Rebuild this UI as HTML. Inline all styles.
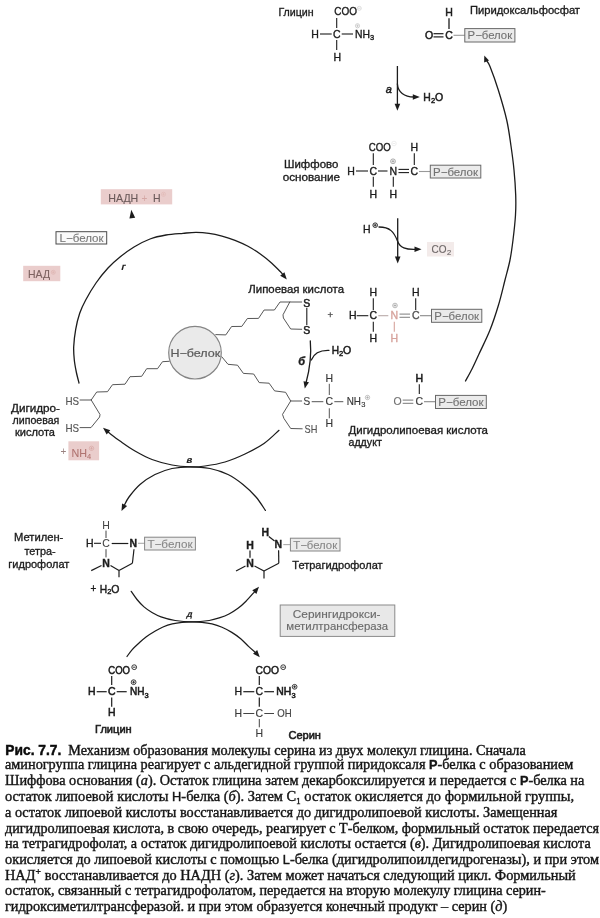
<!DOCTYPE html>
<html lang="ru"><head><meta charset="utf-8"><title>Рис. 7.7</title>
<style>
html,body{margin:0;padding:0;background:#fff;}
body{width:600px;height:918px;overflow:hidden;font-family:"Liberation Sans",sans-serif;}
svg{display:block;font-family:"Liberation Sans",sans-serif;filter:blur(0.45px);}
svg text{white-space:pre;}
</style></head><body>
<svg width="600" height="918" viewBox="0 0 600 918">
<rect x="0" y="0" width="600" height="918" fill="#ffffff"/>
<text x="278.40" y="16.46" font-size="10.5" text-anchor="start" fill="#1c1c1c" textLength="35.20" lengthAdjust="spacingAndGlyphs" stroke="#1c1c1c" stroke-width="0.32">Глицин</text>
<text x="334.30" y="15.46" font-size="10.5" text-anchor="start" fill="#1c1c1c" textLength="22.70" lengthAdjust="spacingAndGlyphs" stroke="#1c1c1c" stroke-width="0.35">COO</text>
<circle cx="359.30" cy="8.30" r="2.0" fill="none" stroke="#cfcfcf" stroke-width="0.7"/>
<line x1="358.10" y1="8.30" x2="360.50" y2="8.30" stroke="#cfcfcf" stroke-width="0.7" stroke-linecap="butt"/>
<line x1="336.70" y1="18.00" x2="336.70" y2="28.00" stroke="#1c1c1c" stroke-width="1.1" stroke-linecap="butt"/>
<text x="315.00" y="37.76" font-size="10.5" text-anchor="middle" fill="#1c1c1c" stroke="#1c1c1c" stroke-width="0.35">H</text>
<line x1="320.00" y1="34.00" x2="331.70" y2="34.00" stroke="#1c1c1c" stroke-width="1.1" stroke-linecap="butt"/>
<text x="336.70" y="37.76" font-size="10.5" text-anchor="middle" fill="#1c1c1c" stroke="#1c1c1c" stroke-width="0.35">C</text>
<line x1="341.70" y1="34.00" x2="353.00" y2="34.00" stroke="#1c1c1c" stroke-width="1.1" stroke-linecap="butt"/>
<text x="355.00" y="37.76" font-size="10.5" text-anchor="start" fill="#1c1c1c" textLength="15.00" lengthAdjust="spacingAndGlyphs" stroke="#1c1c1c" stroke-width="0.35">NH</text>
<text x="372.20" y="40.29" font-size="7.5" text-anchor="middle" fill="#1c1c1c" stroke="#1c1c1c" stroke-width="0.35">3</text>
<circle cx="357.50" cy="25.80" r="2.1" fill="none" stroke="#bdbdbd" stroke-width="0.7"/>
<line x1="356.24" y1="25.80" x2="358.76" y2="25.80" stroke="#bdbdbd" stroke-width="0.7" stroke-linecap="butt"/>
<line x1="357.50" y1="24.54" x2="357.50" y2="27.06" stroke="#bdbdbd" stroke-width="0.7" stroke-linecap="butt"/>
<line x1="336.70" y1="40.00" x2="336.70" y2="50.00" stroke="#1c1c1c" stroke-width="1.1" stroke-linecap="butt"/>
<text x="337.30" y="60.76" font-size="10.5" text-anchor="middle" fill="#1c1c1c" stroke="#1c1c1c" stroke-width="0.35">H</text>
<line x1="397.40" y1="66.00" x2="397.40" y2="105.00" stroke="#1c1c1c" stroke-width="1.3" stroke-linecap="butt"/>
<polygon points="397.40,110.70 394.60,103.70 400.20,103.70" fill="#1c1c1c"/>
<text x="388.70" y="92.94" font-size="11" text-anchor="middle" fill="#1c1c1c" font-style="italic" stroke="#1c1c1c" stroke-width="0.45">a</text>
<path d="M397.4,84 C398,92 404,97 414,97" stroke="#1c1c1c" stroke-width="1.3" fill="none" stroke-linejoin="round" stroke-linecap="round"/>
<polygon points="419.80,97.00 412.80,99.80 412.80,94.20" fill="#1c1c1c"/>
<text x="423.30" y="101.06" font-size="10.5" text-anchor="start" fill="#1c1c1c" textLength="7.50" lengthAdjust="spacingAndGlyphs" stroke="#1c1c1c" stroke-width="0.5">H</text>
<text x="433.00" y="102.98" font-size="7.5" text-anchor="middle" fill="#1c1c1c" stroke="#1c1c1c" stroke-width="0.45">2</text>
<text x="439.00" y="101.06" font-size="10.5" text-anchor="middle" fill="#1c1c1c" stroke="#1c1c1c" stroke-width="0.5">O</text>
<text x="449.00" y="15.76" font-size="10.5" text-anchor="middle" fill="#1c1c1c" stroke="#1c1c1c" stroke-width="0.5">H</text>
<line x1="449.00" y1="18.30" x2="449.00" y2="29.00" stroke="#1c1c1c" stroke-width="1.3" stroke-linecap="butt"/>
<text x="429.00" y="39.06" font-size="10.5" text-anchor="middle" fill="#1c1c1c" stroke="#1c1c1c" stroke-width="0.5">O</text>
<line x1="433.50" y1="33.70" x2="443.50" y2="33.70" stroke="#1c1c1c" stroke-width="1.2" stroke-linecap="butt"/>
<line x1="433.50" y1="36.90" x2="443.50" y2="36.90" stroke="#1c1c1c" stroke-width="1.2" stroke-linecap="butt"/>
<text x="449.00" y="39.06" font-size="10.5" text-anchor="middle" fill="#1c1c1c" stroke="#1c1c1c" stroke-width="0.5">C</text>
<line x1="453.50" y1="35.30" x2="465.00" y2="35.30" stroke="#999" stroke-width="1.1" stroke-linecap="butt"/>
<rect x="464.80" y="28.60" width="50.10" height="13.40" fill="#ebebeb" stroke="#686868" stroke-width="1.0"/>
<text x="467.60" y="39.26" font-size="10.5" text-anchor="start" fill="#727272" textLength="44.50" lengthAdjust="spacingAndGlyphs" stroke="#727272" stroke-width="0.1">P−белок</text>
<text x="470.00" y="13.76" font-size="10.5" text-anchor="start" fill="#1c1c1c" textLength="110.00" lengthAdjust="spacingAndGlyphs" stroke="#1c1c1c" stroke-width="0.32">Пиридоксальфосфат</text>
<text x="284.00" y="167.76" font-size="10.5" text-anchor="start" fill="#1c1c1c" textLength="54.30" lengthAdjust="spacingAndGlyphs" stroke="#1c1c1c" stroke-width="0.32">Шиффово</text>
<text x="282.70" y="181.46" font-size="10.5" text-anchor="start" fill="#1c1c1c" textLength="57.30" lengthAdjust="spacingAndGlyphs" stroke="#1c1c1c" stroke-width="0.32">основание</text>
<text x="368.70" y="151.46" font-size="10.5" text-anchor="start" fill="#1c1c1c" textLength="22.00" lengthAdjust="spacingAndGlyphs" stroke="#1c1c1c" stroke-width="0.35">COO</text>
<circle cx="394.00" cy="143.50" r="2.3" fill="none" stroke="#e6e6e6" stroke-width="0.7"/>
<line x1="392.62" y1="143.50" x2="395.38" y2="143.50" stroke="#e6e6e6" stroke-width="0.7" stroke-linecap="butt"/>
<line x1="373.30" y1="153.30" x2="373.30" y2="165.00" stroke="#1c1c1c" stroke-width="1.1" stroke-linecap="butt"/>
<text x="351.00" y="174.76" font-size="10.5" text-anchor="middle" fill="#1c1c1c" stroke="#1c1c1c" stroke-width="0.35">H</text>
<line x1="356.00" y1="171.00" x2="368.00" y2="171.00" stroke="#1c1c1c" stroke-width="1.1" stroke-linecap="butt"/>
<text x="373.30" y="174.76" font-size="10.5" text-anchor="middle" fill="#1c1c1c" stroke="#1c1c1c" stroke-width="0.35">C</text>
<line x1="378.00" y1="171.00" x2="387.50" y2="171.00" stroke="#1c1c1c" stroke-width="1.1" stroke-linecap="butt"/>
<text x="393.30" y="174.76" font-size="10.5" text-anchor="middle" fill="#1c1c1c" stroke="#1c1c1c" stroke-width="0.35">N</text>
<line x1="398.50" y1="169.40" x2="409.00" y2="169.40" stroke="#1c1c1c" stroke-width="1.1" stroke-linecap="butt"/>
<line x1="398.50" y1="172.60" x2="409.00" y2="172.60" stroke="#1c1c1c" stroke-width="1.1" stroke-linecap="butt"/>
<text x="414.30" y="174.76" font-size="10.5" text-anchor="middle" fill="#1c1c1c" stroke="#1c1c1c" stroke-width="0.35">C</text>
<line x1="419.00" y1="171.50" x2="430.30" y2="171.50" stroke="#999" stroke-width="1.1" stroke-linecap="butt"/>
<rect x="430.30" y="165.20" width="50.50" height="12.80" fill="#ebebeb" stroke="#686868" stroke-width="1.0"/>
<text x="433.10" y="175.56" font-size="10.5" text-anchor="start" fill="#727272" textLength="44.90" lengthAdjust="spacingAndGlyphs" stroke="#727272" stroke-width="0.1">P−белок</text>
<text x="414.30" y="151.46" font-size="10.5" text-anchor="middle" fill="#1c1c1c" stroke="#1c1c1c" stroke-width="0.35">H</text>
<line x1="414.30" y1="153.30" x2="414.30" y2="165.00" stroke="#1c1c1c" stroke-width="1.1" stroke-linecap="butt"/>
<circle cx="393.00" cy="161.30" r="2.4" fill="none" stroke="#8a8a8a" stroke-width="0.7"/>
<line x1="391.56" y1="161.30" x2="394.44" y2="161.30" stroke="#8a8a8a" stroke-width="0.7" stroke-linecap="butt"/>
<line x1="393.00" y1="159.86" x2="393.00" y2="162.74" stroke="#8a8a8a" stroke-width="0.7" stroke-linecap="butt"/>
<line x1="373.30" y1="176.70" x2="373.30" y2="186.70" stroke="#1c1c1c" stroke-width="1.1" stroke-linecap="butt"/>
<line x1="393.30" y1="176.70" x2="393.30" y2="186.70" stroke="#1c1c1c" stroke-width="1.1" stroke-linecap="butt"/>
<text x="373.30" y="197.96" font-size="10.5" text-anchor="middle" fill="#1c1c1c" stroke="#1c1c1c" stroke-width="0.35">H</text>
<text x="393.30" y="197.96" font-size="10.5" text-anchor="middle" fill="#1c1c1c" stroke="#1c1c1c" stroke-width="0.35">H</text>
<text x="366.70" y="233.06" font-size="10.5" text-anchor="middle" fill="#1c1c1c" stroke="#1c1c1c" stroke-width="0.35">H</text>
<circle cx="375.20" cy="225.20" r="2.3" fill="none" stroke="#1c1c1c" stroke-width="0.9"/>
<line x1="373.82" y1="225.20" x2="376.58" y2="225.20" stroke="#1c1c1c" stroke-width="0.9" stroke-linecap="butt"/>
<line x1="375.20" y1="223.82" x2="375.20" y2="226.58" stroke="#1c1c1c" stroke-width="0.9" stroke-linecap="butt"/>
<line x1="397.70" y1="218.30" x2="397.70" y2="257.50" stroke="#1c1c1c" stroke-width="1.3" stroke-linecap="butt"/>
<polygon points="397.70,263.50 394.90,256.50 400.50,256.50" fill="#1c1c1c"/>
<path d="M379,227 C390,227 394,232 397.5,241 C400,248 406,249.5 415,249.3" stroke="#1c1c1c" stroke-width="1.3" fill="none" stroke-linejoin="round" stroke-linecap="round"/>
<polygon points="421.50,249.30 414.50,252.10 414.50,246.50" fill="#1c1c1c"/>
<rect x="427.00" y="242.00" width="27.00" height="14.50" fill="#f3ebea"/>
<text x="431.50" y="253.46" font-size="10.5" text-anchor="start" fill="#6e6868" textLength="15.00" lengthAdjust="spacingAndGlyphs" stroke="#6e6868" stroke-width="0.15">CO</text>
<text x="449.00" y="255.49" font-size="7.5" text-anchor="middle" fill="#6e6868" stroke="#6e6868" stroke-width="0.15">2</text>
<text x="373.30" y="296.46" font-size="10.5" text-anchor="middle" fill="#1c1c1c" stroke="#1c1c1c" stroke-width="0.35">H</text>
<line x1="373.30" y1="298.30" x2="373.30" y2="310.00" stroke="#1c1c1c" stroke-width="1.1" stroke-linecap="butt"/>
<text x="352.70" y="319.46" font-size="10.5" text-anchor="middle" fill="#1c1c1c" stroke="#1c1c1c" stroke-width="0.35">H</text>
<line x1="356.70" y1="315.70" x2="368.30" y2="315.70" stroke="#1c1c1c" stroke-width="1.1" stroke-linecap="butt"/>
<text x="373.30" y="319.46" font-size="10.5" text-anchor="middle" fill="#1c1c1c" stroke="#1c1c1c" stroke-width="0.35">C</text>
<line x1="378.30" y1="315.70" x2="388.30" y2="315.70" stroke="#b9a9a8" stroke-width="1.1" stroke-linecap="butt"/>
<text x="394.30" y="319.46" font-size="10.5" text-anchor="middle" fill="#d6a39c" stroke="#d6a39c" stroke-width="0.35">N</text>
<line x1="399.50" y1="314.10" x2="410.00" y2="314.10" stroke="#888" stroke-width="1.1" stroke-linecap="butt"/>
<line x1="399.50" y1="317.30" x2="410.00" y2="317.30" stroke="#888" stroke-width="1.1" stroke-linecap="butt"/>
<text x="415.70" y="319.46" font-size="10.5" text-anchor="middle" fill="#555" stroke="#555" stroke-width="0.35">C</text>
<line x1="420.00" y1="315.70" x2="431.70" y2="315.70" stroke="#888" stroke-width="1.1" stroke-linecap="butt"/>
<rect x="431.50" y="309.30" width="50.30" height="13.00" fill="#ebebeb" stroke="#686868" stroke-width="1.0"/>
<text x="434.30" y="319.76" font-size="10.5" text-anchor="start" fill="#727272" textLength="44.70" lengthAdjust="spacingAndGlyphs" stroke="#727272" stroke-width="0.1">P−белок</text>
<text x="415.70" y="296.46" font-size="10.5" text-anchor="middle" fill="#1c1c1c" stroke="#1c1c1c" stroke-width="0.35">H</text>
<line x1="415.70" y1="298.30" x2="415.70" y2="310.00" stroke="#1c1c1c" stroke-width="1.1" stroke-linecap="butt"/>
<circle cx="395.00" cy="305.50" r="2.3" fill="none" stroke="#999" stroke-width="0.7"/>
<line x1="393.62" y1="305.50" x2="396.38" y2="305.50" stroke="#999" stroke-width="0.7" stroke-linecap="butt"/>
<line x1="395.00" y1="304.12" x2="395.00" y2="306.88" stroke="#999" stroke-width="0.7" stroke-linecap="butt"/>
<line x1="373.30" y1="321.70" x2="373.30" y2="331.70" stroke="#1c1c1c" stroke-width="1.1" stroke-linecap="butt"/>
<text x="373.30" y="342.06" font-size="10.5" text-anchor="middle" fill="#1c1c1c" stroke="#1c1c1c" stroke-width="0.35">H</text>
<line x1="394.30" y1="321.70" x2="394.30" y2="331.70" stroke="#d6a39c" stroke-width="1.1" stroke-linecap="butt"/>
<text x="394.30" y="342.06" font-size="10.5" text-anchor="middle" fill="#d6a39c" stroke="#d6a39c" stroke-width="0.35">H</text>
<text x="330.30" y="317.80" font-size="9.5" text-anchor="middle" fill="#444" stroke="#444" stroke-width="0.25">+</text>
<text x="248.30" y="293.06" font-size="10.5" text-anchor="start" fill="#1c1c1c" textLength="95.70" lengthAdjust="spacingAndGlyphs" stroke="#1c1c1c" stroke-width="0.32">Липоевая кислота</text>
<text x="306.80" y="306.56" font-size="10.5" text-anchor="middle" fill="#1c1c1c" stroke="#1c1c1c" stroke-width="0.5">S</text>
<text x="306.80" y="333.76" font-size="10.5" text-anchor="middle" fill="#1c1c1c" stroke="#1c1c1c" stroke-width="0.5">S</text>
<line x1="306.80" y1="308.00" x2="306.80" y2="325.00" stroke="#1c1c1c" stroke-width="1.1" stroke-linecap="butt"/>
<path d="M215.80,334.60 L225.80,334.90 L231.60,326.50 L241.80,326.40 L247.40,318.50 L258.50,318.40 L264.10,310.00 L274.40,310.00 L280.00,302.00 L301.70,302.00" stroke="#444" stroke-width="0.9" fill="none" stroke-linejoin="round" stroke-linecap="round"/>
<path d="M289.80,302.00 L283.00,314.80 L283.40,318.00 L290.70,329.00 L301.70,329.30" stroke="#444" stroke-width="0.9" fill="none" stroke-linejoin="round" stroke-linecap="round"/>
<path d="M310.3,341 C311.5,354 309.5,370 306,383" stroke="#1c1c1c" stroke-width="1.3" fill="none" stroke-linejoin="round" stroke-linecap="round"/>
<polygon points="304.80,388.60 303.52,381.17 308.99,382.34" fill="#1c1c1c"/>
<text x="331.70" y="354.46" font-size="10.5" text-anchor="start" fill="#1c1c1c" textLength="7.30" lengthAdjust="spacingAndGlyphs" stroke="#1c1c1c" stroke-width="0.5">H</text>
<text x="341.20" y="356.38" font-size="7.5" text-anchor="middle" fill="#1c1c1c" stroke="#1c1c1c" stroke-width="0.45">2</text>
<text x="347.20" y="354.46" font-size="10.5" text-anchor="middle" fill="#1c1c1c" stroke="#1c1c1c" stroke-width="0.5">O</text>
<path d="M329,350.3 C320,350 314,353 311.3,360" stroke="#1c1c1c" stroke-width="1.3" fill="none" stroke-linejoin="round" stroke-linecap="round"/>
<text x="301.70" y="364.54" font-size="11" text-anchor="middle" fill="#1c1c1c" font-weight="bold" font-style="italic" stroke="#1c1c1c" stroke-width="0.35">б</text>
<circle cx="195" cy="352.7" r="26.3" fill="#eaeaea" stroke="#858585" stroke-width="1.2"/>
<text x="170.40" y="356.96" font-size="10.5" text-anchor="start" fill="#5a5a5a" textLength="49.80" lengthAdjust="spacingAndGlyphs" stroke="#5a5a5a" stroke-width="0.2">H−белок</text>
<text x="329.30" y="381.76" font-size="10.5" text-anchor="middle" fill="#363636" stroke="#363636" stroke-width="0.15">H</text>
<line x1="329.30" y1="383.80" x2="329.30" y2="395.00" stroke="#555" stroke-width="1.0" stroke-linecap="butt"/>
<text x="306.70" y="405.46" font-size="10.5" text-anchor="middle" fill="#444" stroke="#444" stroke-width="0.15">S</text>
<line x1="311.70" y1="401.70" x2="323.30" y2="401.70" stroke="#555" stroke-width="1.0" stroke-linecap="butt"/>
<text x="329.30" y="405.46" font-size="10.5" text-anchor="middle" fill="#363636" stroke="#363636" stroke-width="0.15">C</text>
<line x1="334.30" y1="401.70" x2="343.30" y2="401.70" stroke="#555" stroke-width="1.0" stroke-linecap="butt"/>
<text x="346.70" y="405.46" font-size="10.5" text-anchor="start" fill="#363636" textLength="14.30" lengthAdjust="spacingAndGlyphs" stroke="#363636" stroke-width="0.15">NH</text>
<text x="363.30" y="407.49" font-size="7.5" text-anchor="middle" fill="#363636" stroke="#363636" stroke-width="0.15">3</text>
<circle cx="367.50" cy="397.50" r="2.2" fill="none" stroke="#9a9a9a" stroke-width="0.6"/>
<line x1="366.18" y1="397.50" x2="368.82" y2="397.50" stroke="#9a9a9a" stroke-width="0.6" stroke-linecap="butt"/>
<line x1="367.50" y1="396.18" x2="367.50" y2="398.82" stroke="#9a9a9a" stroke-width="0.6" stroke-linecap="butt"/>
<line x1="329.30" y1="408.30" x2="329.30" y2="418.30" stroke="#555" stroke-width="1.0" stroke-linecap="butt"/>
<text x="329.30" y="427.36" font-size="10.5" text-anchor="middle" fill="#363636" stroke="#363636" stroke-width="0.15">H</text>
<path d="M221.90,356.90 L228.00,364.30 L237.50,365.20 L243.40,373.40 L253.70,374.00 L259.20,382.60 L269.10,383.20 L274.60,390.90 L285.60,392.30 L290.70,401.00 L301.70,401.00" stroke="#444" stroke-width="0.9" fill="none" stroke-linejoin="round" stroke-linecap="round"/>
<path d="M290.70,401.00 L282.50,414.40 L283.90,418.40 L290.70,428.50 L302.20,428.80" stroke="#444" stroke-width="0.9" fill="none" stroke-linejoin="round" stroke-linecap="round"/>
<text x="304.50" y="433.16" font-size="10.5" text-anchor="start" fill="#555" textLength="12.80" lengthAdjust="spacingAndGlyphs" stroke="#555" stroke-width="0.15">SH</text>
<text x="397.70" y="405.46" font-size="10.5" text-anchor="middle" fill="#6e6e6e" stroke="#6e6e6e" stroke-width="0.12">O</text>
<line x1="402.70" y1="400.10" x2="413.30" y2="400.10" stroke="#777" stroke-width="1.0" stroke-linecap="butt"/>
<line x1="402.70" y1="403.30" x2="413.30" y2="403.30" stroke="#777" stroke-width="1.0" stroke-linecap="butt"/>
<text x="419.30" y="405.46" font-size="10.5" text-anchor="middle" fill="#3c3c3c" stroke="#3c3c3c" stroke-width="0.2">C</text>
<line x1="424.00" y1="401.70" x2="435.50" y2="401.70" stroke="#888" stroke-width="1.1" stroke-linecap="butt"/>
<rect x="435.50" y="395.40" width="50.80" height="13.10" fill="#ebebeb" stroke="#686868" stroke-width="1.0"/>
<text x="438.30" y="405.91" font-size="10.5" text-anchor="start" fill="#727272" textLength="45.20" lengthAdjust="spacingAndGlyphs" stroke="#727272" stroke-width="0.1">P−белок</text>
<text x="419.30" y="381.56" font-size="10.5" text-anchor="middle" fill="#1c1c1c" stroke="#1c1c1c" stroke-width="0.55">H</text>
<line x1="419.30" y1="384.30" x2="419.30" y2="394.00" stroke="#1c1c1c" stroke-width="1.1" stroke-linecap="butt"/>
<text x="348.50" y="434.26" font-size="10.5" text-anchor="start" fill="#1c1c1c" textLength="139.50" lengthAdjust="spacingAndGlyphs" stroke="#1c1c1c" stroke-width="0.32">Дигидролипоевая кислота</text>
<text x="348.50" y="446.36" font-size="10.5" text-anchor="start" fill="#1c1c1c" textLength="33.30" lengthAdjust="spacingAndGlyphs" stroke="#1c1c1c" stroke-width="0.32">аддукт</text>
<path d="M465.50,381.00 C466.58,379.00 469.75,373.50 472.00,369.00 C474.25,364.50 476.00,360.50 479.00,354.00 C482.00,347.50 486.75,338.17 490.00,330.00 C493.25,321.83 496.00,313.33 498.50,305.00 C501.00,296.67 503.08,287.50 505.00,280.00 C506.92,272.50 508.67,266.67 510.00,260.00 C511.33,253.33 512.08,247.50 513.00,240.00 C513.92,232.50 515.05,222.50 515.50,215.00 C515.95,207.50 515.95,202.50 515.70,195.00 C515.45,187.50 514.78,178.17 514.00,170.00 C513.22,161.83 512.22,154.33 511.00,146.00 C509.78,137.67 508.82,129.33 506.70,120.00 C504.58,110.67 501.08,98.92 498.30,90.00 C495.52,81.08 491.97,71.42 490.00,66.50 C488.03,61.58 487.08,61.50 486.50,60.50" stroke="#1c1c1c" stroke-width="1.3" fill="none" stroke-linejoin="round" stroke-linecap="round"/>
<polygon points="484.30,55.60 488.99,60.55 484.13,62.41" fill="#1c1c1c"/>
<path d="M169.20,361.30 L162.50,361.70 L157.50,368.70 L146.70,368.70 L141.70,376.30 L130.00,376.70 L125.00,384.20 L112.50,384.70 L107.50,391.70 L96.70,392.00 L91.20,400.00 L80.00,400.00" stroke="#444" stroke-width="0.9" fill="none" stroke-linejoin="round" stroke-linecap="round"/>
<path d="M91.20,400.00 L100.00,414.50 L99.60,417.00 L91.00,427.60 L80.00,427.60" stroke="#444" stroke-width="0.9" fill="none" stroke-linejoin="round" stroke-linecap="round"/>
<text x="65.40" y="404.76" font-size="10.5" text-anchor="start" fill="#555" textLength="13.60" lengthAdjust="spacingAndGlyphs" stroke="#555" stroke-width="0.15">HS</text>
<text x="65.40" y="431.76" font-size="10.5" text-anchor="start" fill="#555" textLength="13.60" lengthAdjust="spacingAndGlyphs" stroke="#555" stroke-width="0.15">HS</text>
<text x="11.00" y="412.36" font-size="10.5" text-anchor="start" fill="#1c1c1c" textLength="49.00" lengthAdjust="spacingAndGlyphs" stroke="#1c1c1c" stroke-width="0.32">Дигидро-</text>
<text x="12.60" y="424.46" font-size="10.5" text-anchor="start" fill="#1c1c1c" textLength="46.70" lengthAdjust="spacingAndGlyphs" stroke="#1c1c1c" stroke-width="0.32">липоевая</text>
<text x="15.00" y="436.36" font-size="10.5" text-anchor="start" fill="#1c1c1c" textLength="40.00" lengthAdjust="spacingAndGlyphs" stroke="#1c1c1c" stroke-width="0.32">кислота</text>
<text x="63.40" y="455.28" font-size="10" text-anchor="middle" fill="#9a8280">+</text>
<rect x="68.40" y="441.30" width="30.70" height="19.00" fill="#eacdcc"/>
<text x="71.50" y="456.76" font-size="10.5" text-anchor="start" fill="#b07470" textLength="15.50" lengthAdjust="spacingAndGlyphs" stroke="#b07470" stroke-width="0.08">NH</text>
<text x="89.20" y="458.99" font-size="7.5" text-anchor="middle" fill="#b07470" stroke="#b07470" stroke-width="0.08">4</text>
<circle cx="91.50" cy="448.30" r="2.2" fill="none" stroke="#d3a19e" stroke-width="0.6"/>
<line x1="90.18" y1="448.30" x2="92.82" y2="448.30" stroke="#d3a19e" stroke-width="0.6" stroke-linecap="butt"/>
<line x1="91.50" y1="446.98" x2="91.50" y2="449.62" stroke="#d3a19e" stroke-width="0.6" stroke-linecap="butt"/>
<rect x="100.80" y="189.20" width="71.40" height="15.20" fill="#eacdcc"/>
<text x="108.30" y="202.06" font-size="10.5" text-anchor="start" fill="#6b5a5a" textLength="30.00" lengthAdjust="spacingAndGlyphs" stroke="#6b5a5a" stroke-width="0.12">НАДН</text>
<text x="144.50" y="201.88" font-size="10" text-anchor="middle" fill="#d4a7a4">+</text>
<text x="156.70" y="202.06" font-size="10.5" text-anchor="middle" fill="#6b5a5a" stroke="#6b5a5a" stroke-width="0.12">H</text>
<circle cx="163.50" cy="194.30" r="2.1" fill="none" stroke="#e0b9b6" stroke-width="0.6"/>
<line x1="162.24" y1="194.30" x2="164.76" y2="194.30" stroke="#e0b9b6" stroke-width="0.6" stroke-linecap="butt"/>
<line x1="163.50" y1="193.04" x2="163.50" y2="195.56" stroke="#e0b9b6" stroke-width="0.6" stroke-linecap="butt"/>
<polygon points="131.30,209.80 135.19,217.68 129.43,218.39" fill="#1c1c1c"/>
<rect x="56.00" y="231.70" width="50.70" height="12.30" fill="#fafafa" stroke="#4a4a4a" stroke-width="1.0"/>
<text x="59.50" y="241.76" font-size="10.5" text-anchor="start" fill="#787878" textLength="44.00" lengthAdjust="spacingAndGlyphs" stroke="#787878" stroke-width="0.1">L−белок</text>
<rect x="23.20" y="265.80" width="37.10" height="15.40" fill="#eacdcc"/>
<text x="28.00" y="278.36" font-size="10.5" text-anchor="start" fill="#7e6260" textLength="22.00" lengthAdjust="spacingAndGlyphs" stroke="#7e6260" stroke-width="0.12">НАД</text>
<circle cx="53.30" cy="272.30" r="2.0" fill="none" stroke="#dcb0ad" stroke-width="0.6"/>
<line x1="52.10" y1="272.30" x2="54.50" y2="272.30" stroke="#dcb0ad" stroke-width="0.6" stroke-linecap="butt"/>
<line x1="53.30" y1="271.10" x2="53.30" y2="273.50" stroke="#dcb0ad" stroke-width="0.6" stroke-linecap="butt"/>
<text transform="translate(123.80,266.80) skewX(-14)" x="0" y="3.58" font-size="10" text-anchor="middle" fill="#1c1c1c" stroke="#1c1c1c" stroke-width="0.1" font-weight="bold">г</text>
<path d="M79.00,383.00 C78.55,381.17 77.08,375.83 76.30,372.00 C75.52,368.17 74.73,364.22 74.30,360.00 C73.87,355.78 73.47,351.82 73.70,346.70 C73.93,341.58 74.70,334.87 75.70,329.30 C76.70,323.73 78.03,318.18 79.70,313.30 C81.37,308.42 82.98,305.05 85.70,300.00 C88.42,294.95 92.28,288.33 96.00,283.00 C99.72,277.67 104.00,272.33 108.00,268.00 C112.00,263.67 115.67,260.50 120.00,257.00 C124.33,253.50 129.00,250.00 134.00,247.00 C139.00,244.00 144.67,241.00 150.00,239.00 C155.33,237.00 160.50,235.95 166.00,235.00 C171.50,234.05 178.00,233.73 183.00,233.30 C188.00,232.87 191.67,232.40 196.00,232.40 C200.33,232.40 204.67,232.68 209.00,233.30 C213.33,233.92 217.67,234.92 222.00,236.10 C226.33,237.28 230.67,238.70 235.00,240.40 C239.33,242.10 243.67,243.95 248.00,246.30 C252.33,248.65 257.03,251.68 261.00,254.50 C264.97,257.32 268.55,260.32 271.80,263.20 C275.05,266.08 278.63,269.87 280.50,271.80 C282.37,273.73 282.58,274.30 283.00,274.80" stroke="#1c1c1c" stroke-width="1.3" fill="none" stroke-linejoin="round" stroke-linecap="round"/>
<polygon points="286.80,279.40 280.16,275.84 284.45,272.24" fill="#1c1c1c"/>
<path d="M279.00,430.30 C276.50,432.50 269.67,439.55 264.00,443.50 C258.33,447.45 251.50,450.92 245.00,454.00 C238.50,457.08 231.67,460.00 225.00,462.00 C218.33,464.00 210.77,465.20 205.00,466.00 C199.23,466.80 195.90,466.97 190.40,466.80 C184.90,466.63 178.40,466.22 172.00,465.00 C165.60,463.78 158.17,461.83 152.00,459.50 C145.83,457.17 140.33,454.08 135.00,451.00 C129.67,447.92 124.45,444.12 120.00,441.00 C115.55,437.88 110.25,433.75 108.30,432.30" stroke="#1c1c1c" stroke-width="1.25" fill="none" stroke-linejoin="round" stroke-linecap="round"/>
<polygon points="103.00,427.80 110.29,430.35 106.66,434.61" fill="#1c1c1c"/>
<text x="189.30" y="462.80" font-size="9.5" text-anchor="middle" fill="#1c1c1c" font-weight="bold" font-style="italic" stroke="#1c1c1c" stroke-width="0.15">в</text>
<path d="M265.40,510.40 C263.83,508.17 259.73,501.32 256.00,497.00 C252.27,492.68 247.67,488.25 243.00,484.50 C238.33,480.75 233.50,477.17 228.00,474.50 C222.50,471.83 216.27,469.78 210.00,468.50 C203.73,467.22 196.73,466.80 190.40,466.80 C184.07,466.80 177.90,467.22 172.00,468.50 C166.10,469.78 160.33,471.83 155.00,474.50 C149.67,477.17 144.33,480.75 140.00,484.50 C135.67,488.25 131.63,493.50 129.00,497.00 C126.37,500.50 125.00,504.08 124.20,505.50" stroke="#1c1c1c" stroke-width="1.25" fill="none" stroke-linejoin="round" stroke-linecap="round"/>
<polygon points="121.50,511.00 122.05,503.48 127.09,505.94" fill="#1c1c1c"/>
<text x="14.00" y="541.06" font-size="10.5" text-anchor="start" fill="#1c1c1c" textLength="49.30" lengthAdjust="spacingAndGlyphs" stroke="#1c1c1c" stroke-width="0.32">Метилен-</text>
<text x="24.40" y="555.06" font-size="10.5" text-anchor="start" fill="#1c1c1c" textLength="31.20" lengthAdjust="spacingAndGlyphs" stroke="#1c1c1c" stroke-width="0.32">тетра-</text>
<text x="8.30" y="567.56" font-size="10.5" text-anchor="start" fill="#1c1c1c" textLength="61.10" lengthAdjust="spacingAndGlyphs" stroke="#1c1c1c" stroke-width="0.32">гидрофолат</text>
<text x="106.00" y="528.76" font-size="10.5" text-anchor="middle" fill="#444" stroke="#444" stroke-width="0.05">H</text>
<line x1="106.00" y1="530.60" x2="106.00" y2="538.00" stroke="#444" stroke-width="1.0" stroke-linecap="butt"/>
<text x="89.80" y="547.06" font-size="10.5" text-anchor="middle" fill="#1c1c1c" stroke="#1c1c1c" stroke-width="0.35">H</text>
<line x1="94.00" y1="543.30" x2="101.00" y2="543.30" stroke="#1c1c1c" stroke-width="1.1" stroke-linecap="butt"/>
<text x="106.00" y="547.36" font-size="10.5" text-anchor="middle" fill="#444" stroke="#444" stroke-width="0.08">C</text>
<line x1="111.70" y1="543.50" x2="128.30" y2="543.50" stroke="#1c1c1c" stroke-width="1.2" stroke-linecap="butt"/>
<text x="133.30" y="547.46" font-size="10.5" text-anchor="middle" fill="#1c1c1c" font-weight="bold" stroke="#1c1c1c" stroke-width="0.35">N</text>
<line x1="138.00" y1="543.30" x2="145.00" y2="543.30" stroke="#aaa" stroke-width="1.1" stroke-linecap="butt"/>
<rect x="144.60" y="537.20" width="50.80" height="12.80" fill="#ebebeb" stroke="#858585" stroke-width="1.0"/>
<text x="147.40" y="547.56" font-size="10.5" text-anchor="start" fill="#888" textLength="45.20" lengthAdjust="spacingAndGlyphs" stroke="#888" stroke-width="0.1">T−белок</text>
<line x1="106.00" y1="549.20" x2="106.00" y2="557.40" stroke="#444" stroke-width="1.0" stroke-linecap="butt"/>
<text x="106.00" y="566.96" font-size="10.5" text-anchor="middle" fill="#1c1c1c" font-weight="bold" stroke="#1c1c1c" stroke-width="0.35">N</text>
<line x1="101.50" y1="565.50" x2="91.20" y2="570.60" stroke="#1c1c1c" stroke-width="1.2" stroke-linecap="butt"/>
<line x1="110.50" y1="565.50" x2="119.00" y2="570.50" stroke="#1c1c1c" stroke-width="1.2" stroke-linecap="butt"/>
<line x1="119.00" y1="570.50" x2="119.00" y2="577.30" stroke="#1c1c1c" stroke-width="1.2" stroke-linecap="butt"/>
<line x1="119.00" y1="570.50" x2="132.40" y2="563.30" stroke="#1c1c1c" stroke-width="1.2" stroke-linecap="butt"/>
<line x1="132.40" y1="563.30" x2="134.00" y2="549.20" stroke="#1c1c1c" stroke-width="1.2" stroke-linecap="butt"/>
<text x="93.50" y="592.38" font-size="10" text-anchor="middle" fill="#1c1c1c" stroke="#1c1c1c" stroke-width="0.4">+</text>
<text x="99.80" y="592.56" font-size="10.5" text-anchor="start" fill="#1c1c1c" textLength="7.40" lengthAdjust="spacingAndGlyphs" stroke="#1c1c1c" stroke-width="0.42">H</text>
<text x="109.40" y="594.48" font-size="7.5" text-anchor="middle" fill="#1c1c1c" stroke="#1c1c1c" stroke-width="0.4">2</text>
<text x="115.40" y="592.56" font-size="10.5" text-anchor="middle" fill="#1c1c1c" stroke="#1c1c1c" stroke-width="0.42">O</text>
<text x="265.30" y="535.76" font-size="10.5" text-anchor="middle" fill="#1c1c1c" font-weight="bold" stroke="#1c1c1c" stroke-width="0.35">H</text>
<line x1="268.80" y1="536.50" x2="274.60" y2="541.00" stroke="#1c1c1c" stroke-width="1.2" stroke-linecap="butt"/>
<text x="278.30" y="548.46" font-size="10.5" text-anchor="middle" fill="#1c1c1c" font-weight="bold" stroke="#1c1c1c" stroke-width="0.35">N</text>
<line x1="283.30" y1="544.60" x2="290.40" y2="544.60" stroke="#aaa" stroke-width="1.1" stroke-linecap="butt"/>
<rect x="290.40" y="538.20" width="49.60" height="12.80" fill="#ebebeb" stroke="#858585" stroke-width="1.0"/>
<text x="293.20" y="548.56" font-size="10.5" text-anchor="start" fill="#888" textLength="44.00" lengthAdjust="spacingAndGlyphs" stroke="#888" stroke-width="0.1">T−белок</text>
<text x="250.00" y="548.76" font-size="10.5" text-anchor="middle" fill="#1c1c1c" font-weight="bold" stroke="#1c1c1c" stroke-width="0.35">H</text>
<line x1="250.00" y1="550.50" x2="250.00" y2="557.80" stroke="#1c1c1c" stroke-width="1.2" stroke-linecap="butt"/>
<text x="250.00" y="567.06" font-size="10.5" text-anchor="middle" fill="#1c1c1c" font-weight="bold" stroke="#1c1c1c" stroke-width="0.35">N</text>
<line x1="245.50" y1="566.00" x2="236.00" y2="571.00" stroke="#1c1c1c" stroke-width="1.2" stroke-linecap="butt"/>
<line x1="254.50" y1="566.00" x2="264.00" y2="571.00" stroke="#1c1c1c" stroke-width="1.2" stroke-linecap="butt"/>
<line x1="264.00" y1="571.00" x2="264.00" y2="578.50" stroke="#1c1c1c" stroke-width="1.2" stroke-linecap="butt"/>
<line x1="264.00" y1="571.00" x2="278.80" y2="563.30" stroke="#1c1c1c" stroke-width="1.2" stroke-linecap="butt"/>
<line x1="278.80" y1="563.30" x2="278.60" y2="550.30" stroke="#1c1c1c" stroke-width="1.2" stroke-linecap="butt"/>
<text x="292.30" y="569.36" font-size="10.5" text-anchor="start" fill="#1c1c1c" textLength="90.30" lengthAdjust="spacingAndGlyphs" stroke="#1c1c1c" stroke-width="0.32">Тетрагидрофолат</text>
<path d="M131.20,591.30 C132.17,592.67 134.87,596.90 137.00,599.50 C139.13,602.10 141.50,604.73 144.00,606.90 C146.50,609.07 149.17,610.85 152.00,612.50 C154.83,614.15 157.13,615.47 161.00,616.80 C164.87,618.13 170.00,619.65 175.20,620.50 C180.40,621.35 186.53,621.90 192.20,621.90 C197.87,621.90 204.57,621.20 209.20,620.50 C213.83,619.80 216.70,618.78 220.00,617.70 C223.30,616.62 226.00,615.57 229.00,614.00 C232.00,612.43 235.17,610.43 238.00,608.30 C240.83,606.17 243.25,603.95 246.00,601.20 C248.75,598.45 253.08,593.37 254.50,591.80" stroke="#1c1c1c" stroke-width="1.25" fill="none" stroke-linejoin="round" stroke-linecap="round"/>
<polygon points="259.00,586.80 256.40,593.88 252.24,590.13" fill="#1c1c1c"/>
<text transform="translate(190.00,614.20) skewX(-14)" x="0" y="3.22" font-size="9" text-anchor="middle" fill="#1c1c1c" stroke="#1c1c1c" stroke-width="0.1" font-weight="bold">д</text>
<path d="M127.00,656.50 C127.83,655.38 130.12,651.93 132.00,649.80 C133.88,647.67 135.97,645.83 138.30,643.70 C140.63,641.57 143.17,639.12 146.00,637.00 C148.83,634.88 152.47,632.67 155.30,631.00 C158.13,629.33 160.17,628.18 163.00,627.00 C165.83,625.82 169.13,624.68 172.30,623.90 C175.47,623.12 178.68,622.63 182.00,622.30 C185.32,621.97 188.87,621.90 192.20,621.90 C195.53,621.90 198.70,621.97 202.00,622.30 C205.30,622.63 208.67,623.07 212.00,623.90 C215.33,624.73 218.70,625.88 222.00,627.30 C225.30,628.72 228.63,630.45 231.80,632.40 C234.97,634.35 238.17,636.63 241.00,639.00 C243.83,641.37 246.38,644.33 248.80,646.60 C251.22,648.87 254.38,651.60 255.50,652.60" stroke="#1c1c1c" stroke-width="1.25" fill="none" stroke-linejoin="round" stroke-linecap="round"/>
<polygon points="259.80,657.20 253.04,653.87 257.20,650.12" fill="#1c1c1c"/>
<rect x="280.20" y="605.00" width="114.60" height="31.40" fill="#e8e8e8" stroke="#8a8a8a" stroke-width="1.0"/>
<text x="292.80" y="618.06" font-size="10.5" text-anchor="start" fill="#6a6a6a" textLength="87.70" lengthAdjust="spacingAndGlyphs" stroke="#6a6a6a" stroke-width="0.12">Серингидрокси-</text>
<text x="286.30" y="630.36" font-size="10.5" text-anchor="start" fill="#6a6a6a" textLength="101.80" lengthAdjust="spacingAndGlyphs" stroke="#6a6a6a" stroke-width="0.12">метилтрансфераза</text>
<text x="108.30" y="674.46" font-size="10.5" text-anchor="start" fill="#1c1c1c" textLength="21.70" lengthAdjust="spacingAndGlyphs" stroke="#1c1c1c" stroke-width="0.55">COO</text>
<circle cx="134.20" cy="667.20" r="2.4" fill="none" stroke="#1c1c1c" stroke-width="0.85"/>
<line x1="132.76" y1="667.20" x2="135.64" y2="667.20" stroke="#1c1c1c" stroke-width="0.85" stroke-linecap="butt"/>
<line x1="111.70" y1="676.00" x2="111.70" y2="685.00" stroke="#1c1c1c" stroke-width="1.2" stroke-linecap="butt"/>
<text x="91.70" y="695.46" font-size="10.5" text-anchor="middle" fill="#1c1c1c" stroke="#1c1c1c" stroke-width="0.55">H</text>
<line x1="96.70" y1="691.70" x2="106.70" y2="691.70" stroke="#1c1c1c" stroke-width="1.2" stroke-linecap="butt"/>
<text x="111.70" y="695.46" font-size="10.5" text-anchor="middle" fill="#1c1c1c" stroke="#1c1c1c" stroke-width="0.55">C</text>
<line x1="116.70" y1="691.70" x2="126.70" y2="691.70" stroke="#1c1c1c" stroke-width="1.2" stroke-linecap="butt"/>
<text x="130.00" y="695.46" font-size="10.5" text-anchor="start" fill="#1c1c1c" textLength="14.50" lengthAdjust="spacingAndGlyphs" stroke="#1c1c1c" stroke-width="0.55">NH</text>
<text x="146.60" y="697.68" font-size="7.5" text-anchor="middle" fill="#1c1c1c" stroke="#1c1c1c" stroke-width="0.5">3</text>
<circle cx="133.60" cy="682.20" r="2.4" fill="none" stroke="#1c1c1c" stroke-width="0.85"/>
<line x1="132.16" y1="682.20" x2="135.04" y2="682.20" stroke="#1c1c1c" stroke-width="0.85" stroke-linecap="butt"/>
<line x1="133.60" y1="680.76" x2="133.60" y2="683.64" stroke="#1c1c1c" stroke-width="0.85" stroke-linecap="butt"/>
<line x1="111.70" y1="697.50" x2="111.70" y2="706.70" stroke="#1c1c1c" stroke-width="1.2" stroke-linecap="butt"/>
<text x="111.70" y="715.66" font-size="10.5" text-anchor="middle" fill="#1c1c1c" stroke="#1c1c1c" stroke-width="0.55">H</text>
<text x="95.00" y="733.06" font-size="10.5" text-anchor="start" fill="#1c1c1c" textLength="36.70" lengthAdjust="spacingAndGlyphs" stroke="#1c1c1c" stroke-width="0.55">Глицин</text>
<text x="255.60" y="674.46" font-size="10.5" text-anchor="start" fill="#1c1c1c" textLength="23.40" lengthAdjust="spacingAndGlyphs" stroke="#1c1c1c" stroke-width="0.5">COO</text>
<circle cx="283.20" cy="667.20" r="2.4" fill="none" stroke="#1c1c1c" stroke-width="0.85"/>
<line x1="281.76" y1="667.20" x2="284.64" y2="667.20" stroke="#1c1c1c" stroke-width="0.85" stroke-linecap="butt"/>
<line x1="259.30" y1="676.00" x2="259.30" y2="685.00" stroke="#1c1c1c" stroke-width="1.2" stroke-linecap="butt"/>
<text x="238.30" y="695.46" font-size="10.5" text-anchor="middle" fill="#1c1c1c" stroke="#1c1c1c" stroke-width="0.35">H</text>
<line x1="243.30" y1="691.70" x2="254.30" y2="691.70" stroke="#1c1c1c" stroke-width="1.2" stroke-linecap="butt"/>
<text x="259.30" y="695.46" font-size="10.5" text-anchor="middle" fill="#1c1c1c" stroke="#1c1c1c" stroke-width="0.35">C</text>
<line x1="264.30" y1="691.70" x2="274.00" y2="691.70" stroke="#1c1c1c" stroke-width="1.2" stroke-linecap="butt"/>
<text x="276.30" y="695.46" font-size="10.5" text-anchor="start" fill="#1c1c1c" textLength="15.00" lengthAdjust="spacingAndGlyphs" stroke="#1c1c1c" stroke-width="0.6">NH</text>
<text x="293.50" y="697.98" font-size="7.5" text-anchor="middle" fill="#1c1c1c" stroke="#1c1c1c" stroke-width="0.5">3</text>
<circle cx="294.60" cy="686.80" r="2.4" fill="none" stroke="#1c1c1c" stroke-width="0.85"/>
<line x1="293.16" y1="686.80" x2="296.04" y2="686.80" stroke="#1c1c1c" stroke-width="0.85" stroke-linecap="butt"/>
<line x1="294.60" y1="685.36" x2="294.60" y2="688.24" stroke="#1c1c1c" stroke-width="0.85" stroke-linecap="butt"/>
<line x1="259.30" y1="697.50" x2="259.30" y2="706.70" stroke="#1c1c1c" stroke-width="1.2" stroke-linecap="butt"/>
<text x="238.30" y="717.26" font-size="10.5" text-anchor="middle" fill="#3a3a3a" stroke="#3a3a3a" stroke-width="0.15">H</text>
<line x1="243.30" y1="713.50" x2="254.30" y2="713.50" stroke="#444" stroke-width="1.0" stroke-linecap="butt"/>
<text x="259.30" y="717.26" font-size="10.5" text-anchor="middle" fill="#3a3a3a" stroke="#3a3a3a" stroke-width="0.15">C</text>
<line x1="264.30" y1="713.50" x2="274.00" y2="713.50" stroke="#444" stroke-width="1.0" stroke-linecap="butt"/>
<text x="277.30" y="717.26" font-size="10.5" text-anchor="start" fill="#444" textLength="14.40" lengthAdjust="spacingAndGlyphs" stroke="#444" stroke-width="0.15">OH</text>
<line x1="259.30" y1="719.00" x2="259.30" y2="727.30" stroke="#444" stroke-width="1.0" stroke-linecap="butt"/>
<text x="259.30" y="736.96" font-size="10.5" text-anchor="middle" fill="#3a3a3a" stroke="#3a3a3a" stroke-width="0.12">H</text>
<text x="288.40" y="739.46" font-size="10.5" text-anchor="start" fill="#1c1c1c" textLength="32.60" lengthAdjust="spacingAndGlyphs" stroke="#1c1c1c" stroke-width="0.55">Серин</text>
<text x="5.3" y="754.50" font-size="13.8" font-weight="bold" fill="#0c0c0c" stroke="#0c0c0c" stroke-width="0.45" textLength="56" lengthAdjust="spacingAndGlyphs">Рис. 7.7.</text>
<text x="68.3" y="754.50" font-size="14.2" fill="#151515" font-family='"Liberation Serif", serif' stroke="#151515" stroke-width="0.4" textLength="457.4" lengthAdjust="spacingAndGlyphs">Механизм образования молекулы серина из двух молекул глицина. Сначала</text>
<text x="5" y="768.75" font-size="14.2" fill="#151515" font-family='"Liberation Serif", serif' stroke="#151515" stroke-width="0.4" textLength="568.3" lengthAdjust="spacingAndGlyphs">аминогруппа глицина реагирует с альдегидной группой пиридоксаля <tspan font-family='&quot;Liberation Sans&quot;, sans-serif' font-weight='bold' font-size='12.6'>Р</tspan>-белка с образованием</text>
<text x="5" y="784.70" font-size="14.2" fill="#151515" font-family='"Liberation Serif", serif' stroke="#151515" stroke-width="0.4" textLength="579.3" lengthAdjust="spacingAndGlyphs">Шиффова основания (<tspan font-style='italic'>а</tspan>). Остаток глицина затем декарбоксилируется и передается с <tspan font-family='&quot;Liberation Sans&quot;, sans-serif' font-weight='bold' font-size='12.6'>Р</tspan>-белка на</text>
<text x="5" y="801.45" font-size="14.2" fill="#151515" font-family='"Liberation Serif", serif' stroke="#151515" stroke-width="0.4" textLength="569.0" lengthAdjust="spacingAndGlyphs">остаток липоевой кислоты <tspan font-family='&quot;Liberation Sans&quot;, sans-serif' font-size='12.6'>Н</tspan>-белка (<tspan font-style='italic'>б</tspan>). Затем С<tspan font-size='8.5' dy='2.5'>1</tspan><tspan dy='-2.5' font-size='1'> </tspan> остаток окисляется до формильной группы,</text>
<text x="5" y="817.10" font-size="14.2" fill="#151515" font-family='"Liberation Serif", serif' stroke="#151515" stroke-width="0.4" textLength="552.3" lengthAdjust="spacingAndGlyphs">а остаток липоевой кислоты восстанавливается до дигидролипоевой кислоты. Замещенная</text>
<text x="5" y="832.75" font-size="14.2" fill="#151515" font-family='"Liberation Serif", serif' stroke="#151515" stroke-width="0.4" textLength="594.0" lengthAdjust="spacingAndGlyphs">дигидролипоевая кислота, в свою очередь, реагирует с Т-белком, формильный остаток передается</text>
<text x="5" y="848.40" font-size="14.2" fill="#151515" font-family='"Liberation Serif", serif' stroke="#151515" stroke-width="0.4" textLength="585.7" lengthAdjust="spacingAndGlyphs">на тетрагидрофолат, а остаток дигидролипоевой кислоты остается (<tspan font-style='italic'>в</tspan>). Дигидролипоевая кислота</text>
<text x="5" y="864.05" font-size="14.2" fill="#151515" font-family='"Liberation Serif", serif' stroke="#151515" stroke-width="0.4" textLength="594.0" lengthAdjust="spacingAndGlyphs">окисляется до липоевой кислоты с помощью <tspan font-family='&quot;Liberation Sans&quot;, sans-serif' font-size='12.6'>L</tspan>-белка (дигидролипоилдегидрогеназы), и при этом</text>
<text x="5" y="879.70" font-size="14.2" fill="#151515" font-family='"Liberation Serif", serif' stroke="#151515" stroke-width="0.4" textLength="570.7" lengthAdjust="spacingAndGlyphs">НАД<tspan font-size='9.5' dy='-4.5'>+</tspan><tspan dy='4.5' font-size='1'> </tspan> восстанавливается до НАДН (<tspan font-style='italic'>г</tspan>). Затем может начаться следующий цикл. Формильный</text>
<text x="5" y="895.35" font-size="14.2" fill="#151515" font-family='"Liberation Serif", serif' stroke="#151515" stroke-width="0.4" textLength="540.7" lengthAdjust="spacingAndGlyphs">остаток, связанный с тетрагидрофолатом, передается на вторую молекулу глицина серин-</text>
<text x="5" y="911.00" font-size="14.2" fill="#151515" font-family='"Liberation Serif", serif' stroke="#151515" stroke-width="0.4" textLength="502.3" lengthAdjust="spacingAndGlyphs">гидроксиметилтрансферазой. и при этом образуется конечный продукт – серин (<tspan font-style='italic'>д</tspan>)</text>
</svg>
</body></html>
